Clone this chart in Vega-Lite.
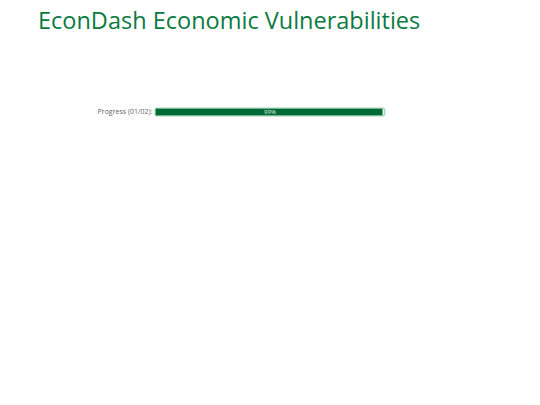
{
  "$schema": "https://vega.github.io/schema/vega-lite/v6.json",
  "autosize": {"type": "none"},
  "width": 230,
  "height": 8,
  "padding": {"left": 155, "top": 108, "right": 155, "bottom": 289},
  "title": {
    "text": "EconDash Economic Vulnerabilities",
    "anchor": "start",
    "frame": "group",
    "dx": -117,
    "offset": 74,
    "font": "Open Sans",
    "fontSize": 23.5,
    "fontWeight": "normal",
    "color": "#0b7a42"
  },
  "data": {
    "values": [
      {"label": "Progress (01/02):", "total": 100, "progress": 99, "text": "99%"}
    ]
  },
  "encoding": {
    "y": {
      "field": "label",
      "type": "nominal",
      "title": null,
      "scale": {"paddingInner": 0, "paddingOuter": 0},
      "axis": {
        "ticks": false,
        "domain": false,
        "labelFont": "Open Sans",
        "labelFontSize": 7,
        "labelColor": "#666666",
        "labelPadding": 3
      }
    }
  },
  "layer": [
    {
      "mark": {"type": "bar", "fill": "#e8f3ec", "cornerRadius": 2},
      "encoding": {
        "x": {"field": "total", "type": "quantitative", "scale": {"domain": [0, 100]}, "axis": null}
      }
    },
    {
      "mark": {"type": "bar", "fill": "#006b38", "cornerRadius": 1},
      "encoding": {
        "x": {"field": "progress", "type": "quantitative", "scale": {"domain": [0, 100]}, "axis": null}
      }
    },
    {
      "mark": {"type": "bar", "fill": null, "stroke": "#9fd0b0", "strokeWidth": 1, "cornerRadius": 2},
      "encoding": {
        "x": {"field": "total", "type": "quantitative", "scale": {"domain": [0, 100]}, "axis": null}
      }
    },
    {
      "mark": {"type": "text", "font": "Open Sans", "fontSize": 6, "color": "#e0efe5"},
      "encoding": {
        "x": {"datum": 50, "type": "quantitative"},
        "text": {"field": "text"}
      }
    }
  ],
  "config": {"view": {"stroke": null}}
}
